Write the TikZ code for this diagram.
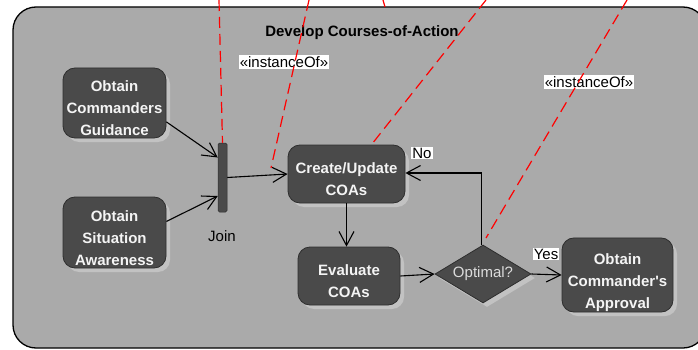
\documentclass[tikz,border=0pt]{standalone}
\usepackage{fontspec}
\setmainfont{Liberation Sans}[Ligatures=TeXOff]
\usetikzlibrary{shapes.geometric,arrows.meta,shadows}
\definecolor{framegray}{HTML}{AAAAAA}
\definecolor{boxgray}{HTML}{4A4A4A}
\definecolor{boxline}{HTML}{2E2E2E}
\definecolor{shadowgray}{HTML}{C2C2C2}
\definecolor{boxtext}{HTML}{F4F4F4}
\definecolor{diamtext}{HTML}{DCDCDC}
\begin{document}
\begin{tikzpicture}[x=1pt,y=-1pt,
  activity/.style={rectangle, rounded corners=12pt, draw=boxline, line width=0.8pt,
    fill=boxgray, text=boxtext, align=center, inner sep=0pt,
    font=\bfseries\fontsize{15}{22}\selectfont,
    drop shadow={shadow xshift=4pt, shadow yshift=-4pt, fill=shadowgray, opacity=1}},
  decision/.style={diamond, draw=boxline, line width=0.8pt, fill=boxgray,
    text=diamtext, inner sep=0pt, shape aspect=1.66,
    font=\fontsize{15}{18}\selectfont,
    drop shadow={shadow xshift=4pt, shadow yshift=-4pt, fill=shadowgray, opacity=1}},
  bar/.style={rectangle, rounded corners=1.5pt, fill=boxgray, draw=boxline,
    line width=0.5pt, inner sep=0pt},
  flow/.style={draw=black, line width=1.1pt,
    -{Straight Barb[length=14pt,width=15pt,line width=1.1pt]}},
  link/.style={draw=red, line width=1.2pt, dash pattern=on 11pt off 6pt},
  tag/.style={fill=white, inner sep=1pt, font=\fontsize{15}{18}\selectfont},
  plain/.style={inner sep=0pt, font=\fontsize{15}{18}\selectfont}]
\useasboundingbox (0,0) rectangle (698,350);

% activity frame
\draw[fill=framegray, line width=1.3pt, rounded corners=23pt] (13,7) rectangle (706,348);
\node[plain, font=\bfseries\fontsize{15}{18}\selectfont] (title) at (362,33) {Develop Courses-of-Action};

% actions (text height pads the text block so it sits a little low in each box)
\node[activity, minimum width=103pt, minimum height=70pt, text height=66pt] (guid) at (114.5,103)
  {Obtain\\Commanders\\Guidance};
\node[activity, minimum width=103pt, minimum height=71pt, text height=66pt] (aware) at (114.5,232.5)
  {Obtain\\Situation\\Awareness};
\node[bar, minimum width=9pt, minimum height=69pt] (join) at (222.5,177.5) {};
\node[plain] (joinlbl) at (222,236) {Join};
\node[activity, minimum width=117pt, minimum height=58pt, text height=43pt] (create) at (346.5,174)
  {Create/Update\\COAs};
\node[activity, minimum width=102pt, minimum height=58pt, text height=43pt] (eval) at (349,276)
  {Evaluate\\COAs};
\node[decision, minimum width=96pt, minimum height=58pt] (opt) at (483,274) {Optimal?};
\node[activity, minimum width=111pt, minimum height=70pt, text height=71pt] (appr) at (617.5,275)
  {Obtain\\Commander's\\Approval};

% control flow
\draw[flow] (guid.-20) -- ([yshift=20pt]join.west);
\draw[flow] (aware.12) -- ([yshift=-18.5pt]join.west);
\draw[flow] (join.east) -- (create.west);
\draw[flow] (create.south) -- (create.south |- eval.north);
\draw[flow] (eval.east) -- (opt.west);
\draw[flow] (opt.east) -- (appr.west);
\draw[flow] ([xshift=-1.5pt]opt.north) |- ([yshift=1pt]create.east);
\node[tag] (no) at (422,153) {No};
\node[tag] (yes) at (546,254) {Yes};

% instanceOf labels
\node[tag] (inst1) at (284,62) {«instanceOf»};
\node[tag] (inst2) at (589,82) {«instanceOf»};

% instanceOf dependencies
\coordinate (r1) at (219,0);
\coordinate (r2) at (309,0);
\coordinate (r2end) at (271,168);
\coordinate (r3) at (486,0);
\coordinate (r4) at (627,0);
\coordinate (r4end) at (486,238);
\coordinate (r5a) at (383,0);
\coordinate (r5b) at (385,7);
\draw[link] (r1) -- (join.north);
\draw[link] (r2) -- (r2end);
\draw[link] (r3) -- ([xshift=25pt]create.north);
\draw[link] (r4) -- (r4end);
\draw[red, line width=1.2pt] (r5a) to[bend left=10] (r5b);
\end{tikzpicture}
\end{document}
